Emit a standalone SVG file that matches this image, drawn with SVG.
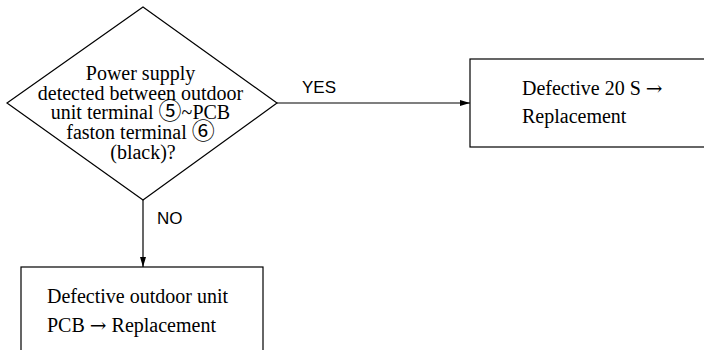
<svg xmlns="http://www.w3.org/2000/svg" width="704" height="350" viewBox="0 0 704 350">
<style>
.shape{fill:#fff;stroke:#000;stroke-width:1.2}
.line{fill:none;stroke:#000;stroke-width:1.2}
.t{font-family:"Liberation Serif","Times New Roman",serif;font-size:20px;fill:#000}
.c{font-family:"Liberation Serif","Times New Roman",serif;font-size:20px;fill:#000}
.circ{font-family:"Noto Sans CJK SC","DejaVu Sans",sans-serif;font-size:23px}
.arr{font-family:"DejaVu Serif","DejaVu Sans",serif;font-size:20px}
.lbl{font-family:"Liberation Sans",Arial,sans-serif;font-size:17px;fill:#000}
</style>
<defs>
<marker id="ah" viewBox="0 0 10 6" refX="10" refY="3" markerWidth="10" markerHeight="6" markerUnits="userSpaceOnUse" orient="auto">
<path d="M0,0 L10,3 L0,6 Z" fill="#000"/>
</marker>
</defs>
<rect width="704" height="350" fill="#fff"/>
<g id="connectors">
<line class="line" x1="277" y1="103" x2="470" y2="103" marker-end="url(#ah)"/>
<text class="lbl" x="302" y="93">YES</text>
<line class="line" x1="143" y1="200" x2="143" y2="267" marker-end="url(#ah)"/>
<text class="lbl" x="157" y="224">NO</text>
</g>
<g id="decision">
<polygon class="shape" points="143,7 277,103 143,200 7,103"/>
<text class="c" text-anchor="middle">
<tspan x="143" y="80">Power supply</tspan>
<tspan x="143" y="99.5">detected between outdoor</tspan>
<tspan x="143" y="119">unit terminal <tspan class="circ">⑤</tspan>~PCB</tspan>
<tspan x="143" y="139">faston terminal <tspan class="circ">⑥</tspan></tspan>
<tspan x="143" y="159">(black)?</tspan>
</text>
</g>
<g id="yes-box">
<rect class="shape" x="470" y="59" width="260" height="88"/>
<text class="t"><tspan x="522" y="95">Defective 20 S <tspan class="arr">→</tspan></tspan><tspan x="522" y="123">Replacement</tspan></text>
</g>
<g id="no-box">
<rect class="shape" x="21" y="267" width="242" height="100"/>
<text class="t"><tspan x="47" y="303">Defective outdoor unit</tspan><tspan x="47" y="332">PCB <tspan class="arr">→</tspan> Replacement</tspan></text>
</g>
</svg>
